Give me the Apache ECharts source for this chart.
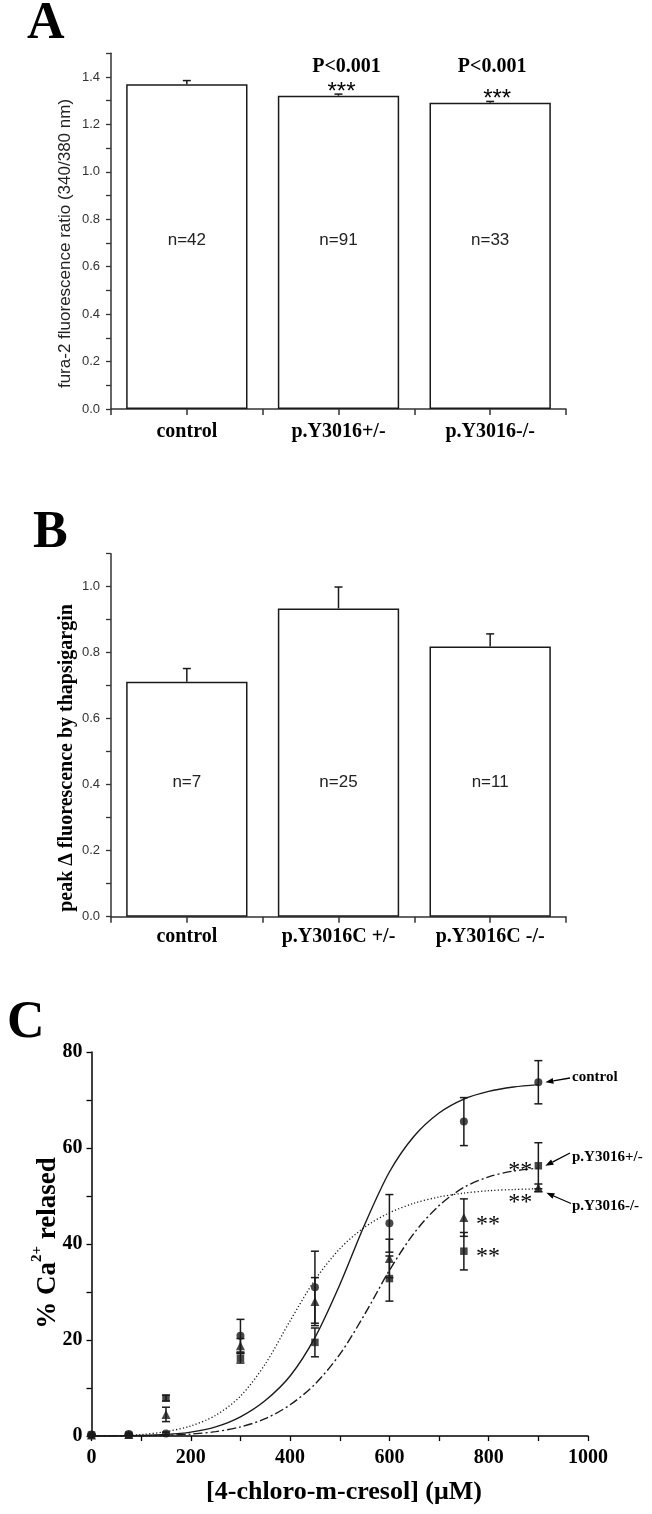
<!DOCTYPE html>
<html><head><meta charset="utf-8">
<script src="https://cdn.jsdelivr.net/npm/echarts@6/dist/echarts.min.js"></script>
<style>html,body{margin:0;padding:0;background:#fff}#c{width:652px;height:1514px}</style>
</head><body><div id="c"></div>
<script>
// ---------- Panel A ----------
const catsA = ['control', 'p.Y3016+/-', 'p.Y3016-/-'];
const meanA = [1.37, 1.321, 1.291];
const errA  = [0.015, 0.007, 0.006];
const nA    = ['n=42', 'n=91', 'n=33'];
const sigA  = ['', '***', '***'];
const pA    = ['', 'P<0.001', 'P<0.001'];
// ---------- Panel B ----------
const catsB = ['control', 'p.Y3016C +/-', 'p.Y3016C -/-'];
const meanB = [0.712, 0.934, 0.819];
const errB  = [0.04, 0.065, 0.038];
const nB    = ['n=7', 'n=25', 'n=11'];
// ---------- Panel C ----------
const doseC    = [0, 75, 150, 300, 450, 600, 750, 900];
const ctrlMean = [0.3, 0.4, 0.5, 20.9, 31.0, 44.3, 65.5, 73.7];
const ctrlErr  = [0.2, 0.2, 0.3, 3.4, 7.5, 6.0, 5.0, 4.5];
const hetMean  = [0.2, 0.2, 7.9, 16.2, 19.5, 32.8, 38.5, 56.3];
const hetErr   = [0.1, 0.1, 0.6, 1.0, 3.0, 4.7, 3.9, 4.8];
const homMean  = [0.2, 0.3, 4.5, 18.8, 28.0, 37.0, 45.5, 51.7];
const homErr   = [0.1, 0.1, 1.5, 1.5, 5.0, 4.0, 3.9, 0.8];
// fitted curves
const fitX    = [0, 50, 100, 150, 200, 250, 300, 350, 400, 450, 500, 550, 600, 650, 700, 750, 800, 850, 900];
const fitCtrl = [0, 0.02, 0.1, 0.3, 0.8, 1.9, 4.0, 7.4, 12.5, 20.5, 31.5, 44, 55, 62.5, 67.3, 70.2, 71.8, 72.7, 73.2];
const fitHet  = [0, 0.01, 0.05, 0.15, 0.4, 0.9, 1.9, 3.6, 6.5, 10.8, 17, 25.3, 34.5, 42.3, 48, 51.8, 54, 55.2, 55.8];
const fitHom  = [0, 0.05, 0.3, 0.9, 2.1, 4.3, 8.3, 15, 24, 32.5, 39, 43.5, 46.5, 48.5, 49.8, 50.6, 51.1, 51.35, 51.5];
const yTicksC = [0, 20, 40, 60, 80];
const xTicksC = [0, 200, 400, 600, 800, 1000];

const SERIF = '"Liberation Serif", "Times New Roman", serif';
const SANS = '"Liberation Sans", Arial, sans-serif';
const INK = '#1a1a1a';

const chart = echarts.init(document.getElementById('c'), null, {renderer: 'canvas', width: 652, height: 1514});

const gA = {left: 111, top: 53.3, width: 455, height: 355.7};
const gB = {left: 111, top: 553.7, width: 455, height: 363};
const gC = {left: 91.5, top: 1052, width: 496.5, height: 384};

const fmtTenth = v => { const k = Math.round(v * 10); return k % 2 === 0 ? (k / 10).toFixed(1) : ''; };

function catAxis(grid, cats, margin) {
  return {type: 'category', gridIndex: grid, data: cats, boundaryGap: true,
    axisLine: {lineStyle: {color: '#333', width: 1.5}}, axisTick: {show: false},
    axisLabel: {margin: margin, color: '#000', fontFamily: SERIF, fontWeight: 'bold', fontSize: 20, interval: 0}};
}
function tickAxis(grid) {
  return {type: 'value', gridIndex: grid, min: 0, max: 3, interval: 0.5, position: 'bottom',
    axisLine: {show: false}, axisLabel: {show: false}, splitLine: {show: false},
    axisTick: {show: true, inside: false, length: 6, lineStyle: {color: '#333', width: 1.5}}};
}
function barYAxis(grid, max) {
  return {type: 'value', gridIndex: grid, min: 0, max: max, interval: 0.1,
    axisLine: {show: true, lineStyle: {color: '#333', width: 1.5}},
    axisTick: {show: true, length: 5, lineStyle: {color: '#333', width: 1.3}},
    splitLine: {show: false},
    axisLabel: {formatter: fmtTenth, margin: 11, color: '#333', fontFamily: SANS, fontSize: 13}};
}

function upErr() {
  return function (params, api) {
    const c = api.value(0), m = api.value(1), e = api.value(2);
    const p0 = api.coord([c, m]), p1 = api.coord([c, m + e]);
    const st = {stroke: INK, lineWidth: 1.5};
    return {type: 'group', children: [
      {type: 'line', shape: {x1: p0[0], y1: p0[1], x2: p1[0], y2: p1[1]}, style: st},
      {type: 'line', shape: {x1: p1[0] - 4, y1: p1[1], x2: p1[0] + 4, y2: p1[1]}, style: st}
    ]};
  };
}
function bothErr(params, api) {
  const x = api.value(0), m = api.value(1), e = api.value(2);
  const pT = api.coord([x, m + e]), pB = api.coord([x, Math.max(0, m - e)]);
  const st = {stroke: INK, lineWidth: 1.5};
  return {type: 'group', children: [
    {type: 'line', shape: {x1: pT[0], y1: pT[1], x2: pB[0], y2: pB[1]}, style: st},
    {type: 'line', shape: {x1: pT[0] - 4, y1: pT[1], x2: pT[0] + 4, y2: pT[1]}, style: st},
    {type: 'line', shape: {x1: pB[0] - 4, y1: pB[1], x2: pB[0] + 4, y2: pB[1]}, style: st}
  ]};
}

function barSeries(xi, yi, means, labels, dist) {
  return {type: 'bar', xAxisIndex: xi, yAxisIndex: yi, data: means, barWidth: '80%',
    itemStyle: {color: '#fff', borderColor: INK, borderWidth: 1.5},
    label: {show: true, position: 'insideBottom', distance: dist,
      formatter: p => labels[p.dataIndex], color: '#222', fontFamily: SANS, fontSize: 17},
    z: 2};
}
function curve(vals, width, type) {
  return {type: 'line', xAxisIndex: 4, yAxisIndex: 2, showSymbol: false, smooth: 0.3,
    data: fitX.map((x, i) => [x, vals[i]]), lineStyle: {color: INK, width: width, type: type}};
}

const option = {
  animation: false,
  backgroundColor: '#fff',
  grid: [Object.assign({}, gA), Object.assign({}, gB), Object.assign({}, gC)],
  xAxis: [
    catAxis(0, catsA, 13), tickAxis(0),
    catAxis(1, catsB, 10), tickAxis(1),
    {type: 'value', gridIndex: 2, min: 0, max: 1000, interval: 100,
      axisLine: {lineStyle: {color: '#000', width: 1.5}},
      axisTick: {show: true, length: 5, lineStyle: {color: '#000', width: 1.3}},
      splitLine: {show: false},
      axisLabel: {formatter: v => xTicksC.includes(v) ? String(v) : '', margin: 12,
        color: '#000', fontFamily: SERIF, fontWeight: 'bold', fontSize: 20}}
  ],
  yAxis: [
    barYAxis(0, 1.5), barYAxis(1, 1.1),
    {type: 'value', gridIndex: 2, min: 0, max: 80, interval: 10,
      axisLine: {show: true, lineStyle: {color: '#000', width: 1.5}},
      axisTick: {show: true, length: 5, lineStyle: {color: '#000', width: 1.3}},
      splitLine: {show: false},
      axisLabel: {formatter: v => yTicksC.includes(v) ? String(v) : '', margin: 9,
        color: '#000', fontFamily: SERIF, fontWeight: 'bold', fontSize: 20}}
  ],
  series: [
    barSeries(0, 0, meanA, nA, 160),
    {type: 'custom', xAxisIndex: 0, yAxisIndex: 0, renderItem: upErr(), z: 5,
      data: catsA.map((c, i) => [i, meanA[i], errA[i]])},
    barSeries(2, 1, meanB, nB, 126),
    {type: 'custom', xAxisIndex: 2, yAxisIndex: 1, renderItem: upErr(), z: 5,
      data: catsB.map((c, i) => [i, meanB[i], errB[i]])},
    curve(fitCtrl, 1.4, 'solid'),
    curve(fitHet, 1.4, [9, 3, 2, 3]),
    curve(fitHom, 1.3, [1.2, 2.2]),
    {type: 'custom', xAxisIndex: 4, yAxisIndex: 2, renderItem: bothErr, z: 4,
      data: doseC.map((x, i) => [x, ctrlMean[i], ctrlErr[i]])},
    {type: 'custom', xAxisIndex: 4, yAxisIndex: 2, renderItem: bothErr, z: 4,
      data: doseC.map((x, i) => [x, hetMean[i], hetErr[i]])},
    {type: 'custom', xAxisIndex: 4, yAxisIndex: 2, renderItem: bothErr, z: 4,
      data: doseC.map((x, i) => [x, homMean[i], homErr[i]])},
    {type: 'scatter', xAxisIndex: 4, yAxisIndex: 2, symbol: 'circle', symbolSize: 8, z: 6,
      itemStyle: {color: INK}, data: doseC.map((x, i) => [x, ctrlMean[i]])},
    {type: 'scatter', xAxisIndex: 4, yAxisIndex: 2, symbol: 'rect', symbolSize: 7.5, z: 6,
      itemStyle: {color: INK}, data: doseC.map((x, i) => [x, hetMean[i]])},
    {type: 'scatter', xAxisIndex: 4, yAxisIndex: 2, symbol: 'triangle', symbolSize: 9, z: 6,
      itemStyle: {color: INK}, data: doseC.map((x, i) => [x, homMean[i]])}
  ]
};
chart.setOption(option);

// ---------- annotations (positions taken from the library's scales) ----------
const toA = p => chart.convertToPixel({xAxisIndex: 0, yAxisIndex: 0}, p);
const toC = p => chart.convertToPixel({xAxisIndex: 4, yAxisIndex: 2}, p);
const g = [];
function txt(x, y, text, font, opts) {
  g.push({type: 'text', x: x, y: y, z: 50,
    style: Object.assign({text: text, font: font, fill: '#000', align: 'center', verticalAlign: 'middle'}, opts || {})});
}
txt(27, 25, 'A', 'bold 52px ' + SERIF, {align: 'left'});
txt(33, 533.5, 'B', 'bold 52px ' + SERIF, {align: 'left'});
txt(7, 1024, 'C', 'bold 52px ' + SERIF, {align: 'left'});
g.push({type: 'text', x: 65, y: 243.5, rotation: Math.PI / 2, z: 50,
  style: {text: 'fura-2 fluorescence ratio (340/380 nm)', font: '17px ' + SANS, fill: '#222', align: 'center', verticalAlign: 'middle'}});
g.push({type: 'text', x: 67, y: 758, rotation: Math.PI / 2, z: 50,
  style: {text: 'peak \u0394 fluorescence by thapsigargin', font: 'bold 20px ' + SERIF, fill: '#000', align: 'center', verticalAlign: 'middle'}});
g.push({type: 'text', x: 46, y: 1243, rotation: Math.PI / 2, z: 50,
  style: {text: '{b|% Ca}{s|2+}{b| relased}', align: 'center', verticalAlign: 'middle',
    rich: {b: {font: 'bold 27px ' + SERIF, fill: '#000', lineHeight: 32, verticalAlign: 'bottom'},
           s: {font: 'bold 15px ' + SERIF, fill: '#000', lineHeight: 32, verticalAlign: 'top'}}}});
txt(344, 1492, '[4-chloro-m-cresol] (\u03bcM)', 'bold 26px ' + SERIF);
const pOff = [0, 8, 2], sOff = [0, 3, 7];
catsA.forEach((c, i) => {
  if (!pA[i]) return;
  const top = toA([i, meanA[i] + errA[i]]);
  txt(top[0] + pOff[i], 66.5, pA[i], 'bold 20px ' + SERIF);
  txt(top[0] + sOff[i], top[1] - 2, sigA[i], '24px ' + SANS);
});
function arrow(x1, y1, x2, y2) {
  const a = Math.atan2(y2 - y1, x2 - x1), L = 8, W = 3;
  const bx = x2 - L * Math.cos(a), by = y2 - L * Math.sin(a);
  g.push({type: 'line', z: 50, shape: {x1: x1, y1: y1, x2: bx, y2: by}, style: {stroke: '#000', lineWidth: 1.3}});
  g.push({type: 'polygon', z: 50, shape: {points: [[x2, y2], [bx + W * Math.sin(a), by - W * Math.cos(a)], [bx - W * Math.sin(a), by + W * Math.cos(a)]]}, style: {fill: '#000'}});
}
const last = doseC.length - 1;
const pc = toC([doseC[last], ctrlMean[last]]);
const ph = toC([doseC[last], hetMean[last]]);
const pm = toC([doseC[last], homMean[last]]);
arrow(570, 1078, pc[0] + 7, pc[1]);
arrow(570, 1153, ph[0] + 7, ph[1]);
arrow(571, 1203.5, pm[0] + 8, pm[1] + 5);
const labFont = 'bold 15px ' + SERIF;
txt(572, 1077, 'control', labFont, {align: 'left'});
txt(572, 1157, 'p.Y3016+/-', labFont, {align: 'left'});
txt(572, 1206, 'p.Y3016-/-', labFont, {align: 'left'});
const starFont = '24px ' + SERIF, sy = 7;
const h750 = toC([doseC[last - 1], hetMean[last - 1]]);
const m750 = toC([doseC[last - 1], homMean[last - 1]]);
txt(ph[0] - 18, ph[1] - 2 + sy, '**', starFont);
txt(pm[0] - 18, pm[1] + 8 + sy, '**', starFont);
txt(m750[0] + 24, m750[1] + sy, '**', starFont);
txt(h750[0] + 24, h750[1] - 1.5 + sy, '**', starFont);

chart.setOption({graphic: {elements: g}});
</script></body></html>
